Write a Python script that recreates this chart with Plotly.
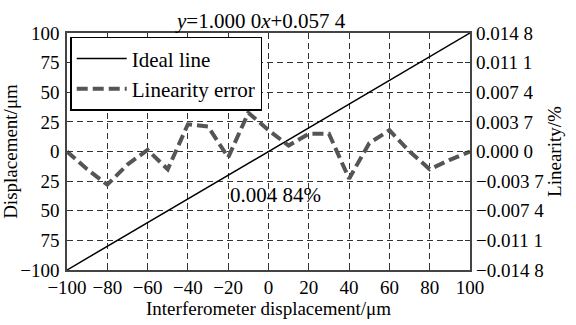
import plotly.graph_objects as go

x_disp = [-100, -90, -80, -70, -60, -50, -40, -30, -20, -10, 0, 10, 20, 30, 40, 50, 60, 70, 80, 90, 100]
ideal = [-100, -90, -80, -70, -60, -50, -40, -30, -20, -10, 0, 10, 20, 30, 40, 50, 60, 70, 80, 90, 100]
lin_err = [0.0, -0.00222, -0.00414, -0.00163, 0.0002, -0.00222, 0.0034, 0.00311, -0.00074, 0.00484,
           0.00266, 0.00074, 0.00222, 0.00222, -0.0034, 0.00104, 0.00266, 0.0, -0.00222, -0.00104, 0.0]

x_ticks = [-100, -80, -60, -40, -20, 0, 20, 40, 60, 80, 100]
x_ticktext = ["\u2212100", "\u221280", "\u221260", "\u221240", "\u221220", "0", "20", "40", "60", "80", "100"]
y_ticks = [100, 75, 50, 25, 0, -25, -50, -75, -100]
y_ticktext = ["100", "75", "50", "25", "0", "25", "50", "75", "\u2212100"]
y2_ticks = [0.0148, 0.0111, 0.0074, 0.0037, 0.0, -0.0037, -0.0074, -0.0111, -0.0148]
y2_ticktext = ["0.014 8", "0.011 1", "0.007 4", "0.003 7", "0.000 0",
               "\u22120.003 7", "\u22120.007 4", "\u22120.011 1", "\u22120.014 8"]

FONT = "Times New Roman, Liberation Serif, DejaVu Serif, serif"
FS = 19
FS_BIG = 21

fig = go.Figure()
fig.add_trace(go.Scatter(x=x_disp, y=ideal, mode="lines", name="Ideal line",
                         line=dict(color="black", width=1.5)))
fig.add_trace(go.Scatter(x=x_disp, y=lin_err, mode="lines", name="Linearity error", yaxis="y2",
                         line=dict(color="#555555", width=4, dash="11px,5px")))

fig.add_annotation(x=0.48, y=1.0, xref="paper", yref="paper", xanchor="center", yanchor="bottom",
                   yshift=-2, text="<i>y</i>=1.000 0<i>x</i>+0.057 4", showarrow=False,
                   font=dict(family=FONT, size=FS_BIG, color="black"))
fig.add_annotation(x=-20, y=-37, xref="x", yref="y", xanchor="left", yanchor="middle",
                   text="0.004 84%", showarrow=False, font=dict(family=FONT, size=FS_BIG, color="black"))

axis_common = dict(showline=True, linecolor="#444444", linewidth=1.5, mirror="ticks",
                   ticks="inside", ticklen=5, tickcolor="#333333", zeroline=False, automargin=False,
                   tickfont=dict(family=FONT, size=FS, color="black"))

fig.update_layout(
    template="none",
    width=576, height=325,
    margin=dict(l=67, r=106, t=33, b=55),
    paper_bgcolor="white", plot_bgcolor="white",
    showlegend=True,
    legend=dict(x=0.008, y=0.984, xanchor="left", yanchor="top", bgcolor="white",
                bordercolor="black", borderwidth=1.5, itemwidth=50, tracegroupgap=0,
                font=dict(family=FONT, size=FS_BIG, color="black")),
    xaxis=dict(range=[-100, 100], tickvals=x_ticks, ticktext=x_ticktext,
               showgrid=True, gridcolor="#333333", gridwidth=1, griddash="6px,4px",
               ticklabelstandoff=-1,
               title=dict(text="Interferometer displacement/\u03bcm", standoff=2,
                          font=dict(family=FONT, size=FS, color="black")),
               **axis_common),
    yaxis=dict(range=[-100, 100], tickvals=y_ticks, ticktext=y_ticktext,
               showgrid=True, gridcolor="#333333", gridwidth=1, griddash="6px,4px",
               ticklabelstandoff=2,
               title=dict(text="Displacement/\u03bcm", standoff=2,
                          font=dict(family=FONT, size=FS, color="black")),
               **axis_common),
    yaxis2=dict(range=[-0.0148, 0.0148], tickvals=y2_ticks, ticktext=y2_ticktext,
                overlaying="y", side="right", showgrid=False, showline=False, zeroline=False,
                automargin=False,
                ticks="", ticklabelstandoff=5, tickfont=dict(family=FONT, size=FS, color="black"),
                title=dict(text="Linearity/%", standoff=2,
                           font=dict(family=FONT, size=FS, color="black"))),
)

fig.write_html("out.html", config={"displayModeBar": False},
               post_script="document.body.style.margin='0';")
